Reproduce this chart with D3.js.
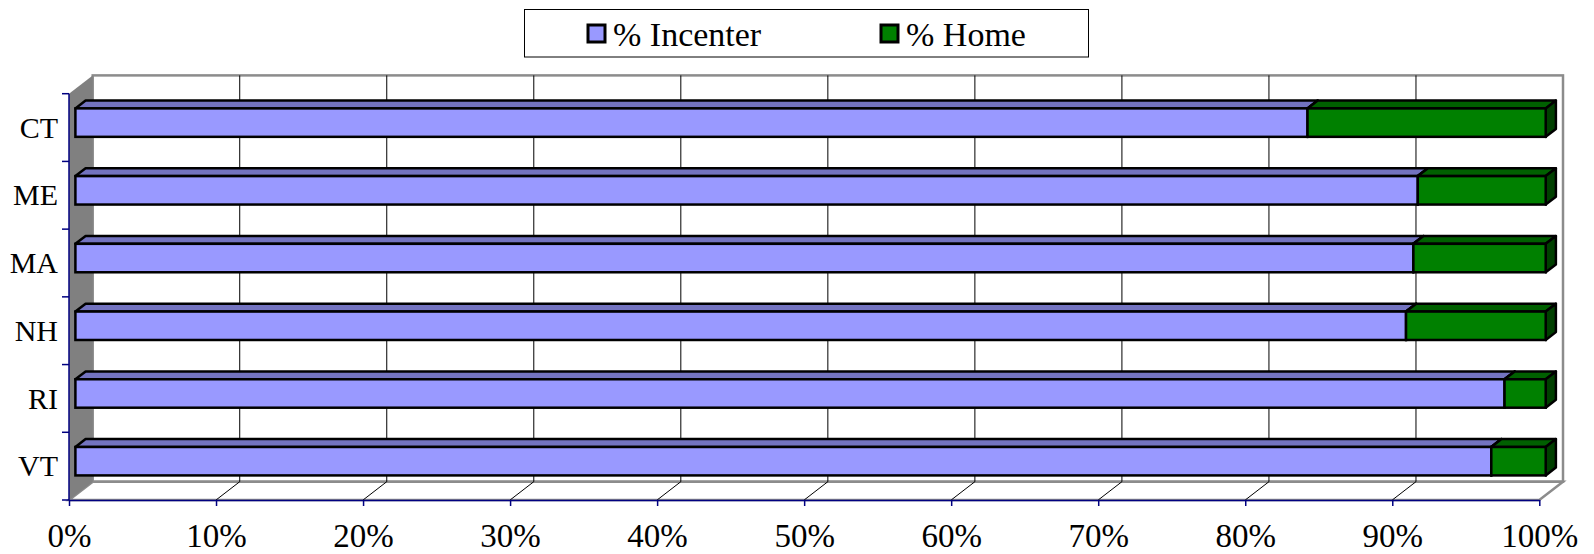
<!DOCTYPE html>
<html>
<head>
<meta charset="utf-8">
<script src="https://cdn.jsdelivr.net/npm/d3@7"></script>
<style>
  html, body { margin: 0; padding: 0; background: #ffffff; }
  svg { display: block; }
  text { font-family: "Liberation Serif", "DejaVu Serif", serif; fill: #000; }
</style>
</head>
<body>
<svg id="chart" width="1594" height="554"></svg>
<script>
// ---- data ----
const categories = ["CT", "ME", "MA", "NH", "RI", "VT"];
const incenter = [83.8, 91.3, 91.0, 90.5, 97.2, 96.3];
const home = [16.2, 8.7, 9.0, 9.5, 2.8, 3.7];
const seriesNames = ["% Incenter", "% Home"];
const xTicks = [0, 10, 20, 30, 40, 50, 60, 70, 80, 90, 100];

// ---- layout ----
const svg = d3.select("#chart");
const front = { left: 69, right: 1539.3, top: 93.7, bottom: 500 };
const depth = { dx: 23.7, dy: -18.3 };   // full wall depth offset
const barD0 = 0.27, barD1 = 0.70;        // bar depth range (fraction of wall depth)

const x = d3.scaleLinear().domain([0, 100]).range([front.left, front.right]);
const y = d3.scaleBand().domain(categories).range([front.top, front.bottom]);

const colors = {
  front: ["#9999FF", "#008000"],
  top:   ["#7373C0", "#006000"],
  side:  ["#5C5C99", "#004000"]
};

const off = d => [depth.dx * d, depth.dy * d];
const pt = (px, py, d) => { const o = off(d); return [px + o[0], py + o[1]]; };
const poly = pts => pts.map(p => p.join(",")).join(" ");

// ---- walls ----
const wallGray = "#8c8c8c";
svg.append("rect")
  .attr("x", front.left + depth.dx).attr("y", front.top + depth.dy)
  .attr("width", front.right - front.left).attr("height", front.bottom - front.top)
  .attr("fill", "#fff").attr("stroke", wallGray).attr("stroke-width", 2.5);
svg.append("polygon")
  .attr("points", poly([
    [front.left, front.bottom], pt(front.left, front.bottom, 1),
    pt(front.right, front.bottom, 1), [front.right, front.bottom]]))
  .attr("fill", "#fff").attr("stroke", wallGray).attr("stroke-width", 2.5);
svg.append("polygon")
  .attr("points", poly([
    [front.left, front.top], pt(front.left, front.top, 1),
    pt(front.left, front.bottom, 1), [front.left, front.bottom]]))
  .attr("fill", "#808080").attr("stroke", "none");

// ---- gridlines ----
const grid = svg.append("g");
xTicks.filter(v => v > 0 && v < 100).forEach(v => {
  const bx = x(v) + depth.dx;
  grid.append("line")
    .attr("x1", bx).attr("x2", bx)
    .attr("y1", front.top + depth.dy).attr("y2", front.bottom + depth.dy)
    .attr("stroke", "#000").attr("stroke-width", 1);
  grid.append("line")
    .attr("x1", bx).attr("y1", front.bottom + depth.dy)
    .attr("x2", x(v)).attr("y2", front.bottom)
    .attr("stroke", "#000").attr("stroke-width", 1);
});

// ---- bars ----
const barsG = svg.append("g");
const barH = y.bandwidth() * 0.42;
categories.forEach((cat, i) => {
  const cy = y(cat) + y.bandwidth() / 2;
  const y0 = cy - barH / 2, y1 = cy + barH / 2;
  const segs = [[0, incenter[i]], [incenter[i], incenter[i] + home[i]]];
  segs.forEach((s, k) => {
    const xa = x(s[0]), xb = x(s[1]);
    barsG.append("polygon")
      .attr("points", poly([pt(xa, y0, barD0), pt(xa, y0, barD1), pt(xb, y0, barD1), pt(xb, y0, barD0)]))
      .attr("fill", colors.top[k]).attr("stroke", "#000").attr("stroke-width", 2.5)
      .attr("stroke-linejoin", "round");
    barsG.append("polygon")
      .attr("points", poly([pt(xb, y0, barD0), pt(xb, y0, barD1), pt(xb, y1, barD1), pt(xb, y1, barD0)]))
      .attr("fill", colors.side[k]).attr("stroke", "#000").attr("stroke-width", 2.5)
      .attr("stroke-linejoin", "round");
    const f0 = pt(xa, y0, barD0), f1 = pt(xb, y1, barD0);
    barsG.append("rect")
      .attr("x", f0[0]).attr("y", f0[1])
      .attr("width", f1[0] - f0[0]).attr("height", f1[1] - f0[1])
      .attr("fill", colors.front[k]).attr("stroke", "#000").attr("stroke-width", 2.5);
  });
});

// ---- axes ----
const navy = "#000080";
const xAxis = svg.append("g")
  .attr("transform", `translate(0,${front.bottom})`)
  .call(d3.axisBottom(x).tickValues(xTicks).tickFormat(d => d + "%").tickSize(6).tickSizeOuter(0));
xAxis.select(".domain").attr("stroke", navy).attr("stroke-width", 1.5);
xAxis.selectAll(".tick line").attr("stroke", navy).attr("stroke-width", 1.5);
xAxis.selectAll(".tick text")
  .attr("y", 47).attr("dy", 0)
  .style("font-family", '"Liberation Serif", serif').style("font-size", "33px").attr("fill", "#000");

const yAxis = svg.append("g")
  .attr("transform", `translate(${front.left},0)`)
  .call(d3.axisLeft(y).tickSize(0).tickPadding(11));
yAxis.select(".domain").attr("stroke", navy).attr("stroke-width", 1.5).attr("d", `M0,${front.top}V${front.bottom}`);
yAxis.selectAll(".tick text")
  .attr("dy", "0.34em")
  .style("font-family", '"Liberation Serif", serif').style("font-size", "30px").attr("fill", "#000");
const edges = categories.map(c => y(c)).concat([y(categories[categories.length - 1]) + y.bandwidth()]);
yAxis.selectAll("line.edge").data(edges).enter().append("line")
  .attr("class", "edge")
  .attr("x1", -7).attr("x2", 0).attr("y1", d => d).attr("y2", d => d)
  .attr("stroke", navy).attr("stroke-width", 1.5);

// ---- legend ----
const leg = svg.append("g");
leg.append("rect")
  .attr("x", 524.5).attr("y", 9.5).attr("width", 564).attr("height", 47.5)
  .attr("fill", "#fff").attr("stroke", "#000").attr("stroke-width", 1);
const legX = [588, 881];
seriesNames.forEach((name, k) => {
  leg.append("rect")
    .attr("x", legX[k]).attr("y", 25).attr("width", 17).attr("height", 17)
    .attr("fill", colors.front[k]).attr("stroke", "#000").attr("stroke-width", 3);
  leg.append("text")
    .attr("x", legX[k] + 25).attr("y", 45.5)
    .style("font-size", "34px")
    .text(name);
});
</script>
</body>
</html>
